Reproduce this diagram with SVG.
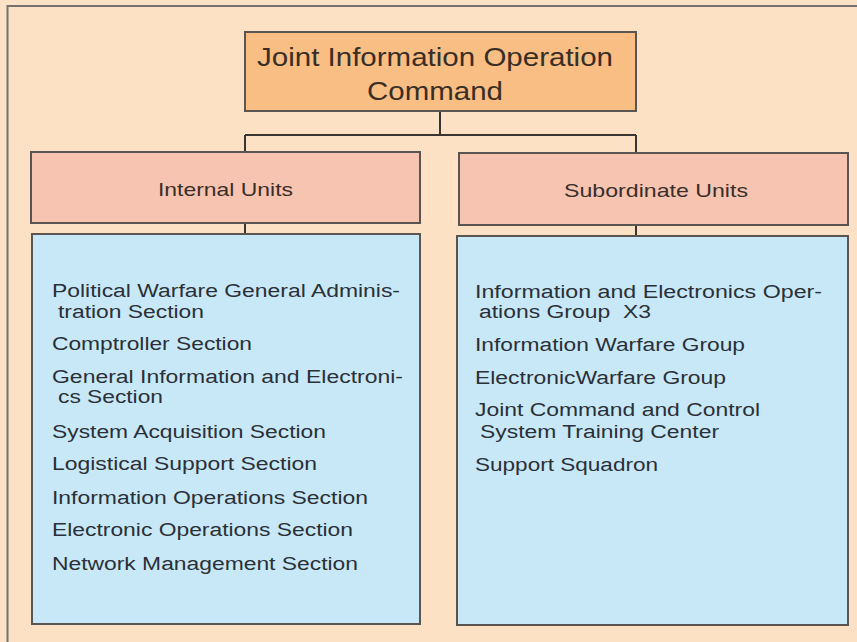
<svg xmlns="http://www.w3.org/2000/svg" width="857" height="642" viewBox="0 0 857 642">
<style>
.box{stroke:#5a5550;stroke-width:2}
.top{fill:#F8BE84}
.mid{fill:#F7C4B2}
.list{fill:#C8E8F8}
.t{font-family:"Liberation Sans",Arial,sans-serif;fill:#2e2e2e}
.title{font-size:26px;text-anchor:middle;fill:#3a2e25}
.lbl{font-size:19px;fill:#3a2e28}
.item{font-size:18px;fill:#2a3038}
.conn{stroke:#3a3530;stroke-width:2;fill:none}
</style>
<rect x="0" y="0" width="857" height="642" fill="#FCE3C8"/>
<rect x="7.5" y="6" width="870" height="660" fill="#FDE1C5" stroke="#77726d" stroke-width="2"/>
<g id="connectors">
<path class="conn" d="M440,111 V135 M245,135 H636 M245,135 V152 M636,135 V153 M245,223 V234 M636,225 V236"/>
</g>
<g id="node-jioc">
<rect class="box top" x="245" y="32" width="391" height="79"/>
<text class="t title" x="435" y="66" textLength="356" lengthAdjust="spacingAndGlyphs">Joint Information Operation</text>
<text class="t title" x="435" y="100" textLength="136" lengthAdjust="spacingAndGlyphs">Command</text>
</g>
<g id="node-internal">
<rect class="box mid" x="31" y="152" width="389" height="71"/>
<text class="t lbl" x="158" y="196" textLength="135" lengthAdjust="spacingAndGlyphs">Internal Units</text>
</g>
<g id="node-subordinate">
<rect class="box mid" x="459" y="153" width="389" height="72"/>
<text class="t lbl" x="564" y="197" textLength="184" lengthAdjust="spacingAndGlyphs">Subordinate Units</text>
</g>
<g id="node-internal-list">
<rect class="box list" x="32" y="234" width="388" height="390"/>
<text class="t item" x="52" y="297" textLength="348" lengthAdjust="spacingAndGlyphs">Political Warfare General Adminis-</text>
<text class="t item" x="58" y="318" textLength="146" lengthAdjust="spacingAndGlyphs">tration Section</text>
<text class="t item" x="52" y="350" textLength="200" lengthAdjust="spacingAndGlyphs">Comptroller Section</text>
<text class="t item" x="52" y="383" textLength="351" lengthAdjust="spacingAndGlyphs">General Information and Electroni-</text>
<text class="t item" x="58" y="403" textLength="105" lengthAdjust="spacingAndGlyphs">cs Section</text>
<text class="t item" x="52" y="438" textLength="274" lengthAdjust="spacingAndGlyphs">System Acquisition Section</text>
<text class="t item" x="52" y="470" textLength="265" lengthAdjust="spacingAndGlyphs">Logistical Support Section</text>
<text class="t item" x="52" y="504" textLength="316" lengthAdjust="spacingAndGlyphs">Information Operations Section</text>
<text class="t item" x="52" y="536" textLength="301" lengthAdjust="spacingAndGlyphs">Electronic Operations Section</text>
<text class="t item" x="52" y="570" textLength="306" lengthAdjust="spacingAndGlyphs">Network Management Section</text>
</g>
<g id="node-subordinate-list">
<rect class="box list" x="457" y="236" width="391" height="389"/>
<text class="t item" x="475" y="298" textLength="347" lengthAdjust="spacingAndGlyphs">Information and Electronics Oper-</text>
<text class="t item" x="479" y="318" textLength="172" lengthAdjust="spacingAndGlyphs" xml:space="preserve">ations Group  X3</text>
<text class="t item" x="475" y="351" textLength="270" lengthAdjust="spacingAndGlyphs">Information Warfare Group</text>
<text class="t item" x="475" y="384" textLength="251" lengthAdjust="spacingAndGlyphs">ElectronicWarfare Group</text>
<text class="t item" x="475" y="416" textLength="285" lengthAdjust="spacingAndGlyphs">Joint Command and Control</text>
<text class="t item" x="480" y="438" textLength="239" lengthAdjust="spacingAndGlyphs">System Training Center</text>
<text class="t item" x="475" y="471" textLength="183" lengthAdjust="spacingAndGlyphs">Support Squadron</text>
</g>
</svg>
